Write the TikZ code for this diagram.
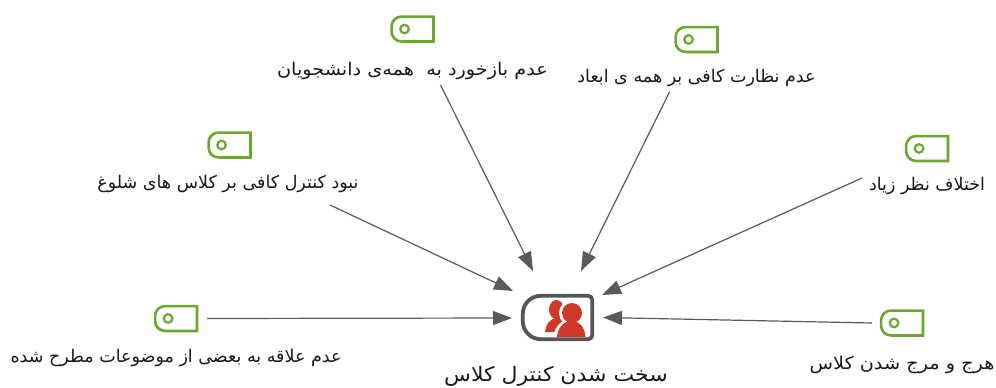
\documentclass[tikz,border=0pt]{standalone}
\usepackage{fontspec}
\TeXXeTstate=1
\newfontfamily\arabicfont[Script=Arabic]{DejaVu Sans}
\newfontfamily\arabicwide[Script=Arabic,FakeStretch=1.1]{DejaVu Sans}
\usetikzlibrary{arrows.meta}
\definecolor{tagGreen}{HTML}{6BA82C}
\definecolor{lineGrey}{HTML}{5A5A5A}
\definecolor{mainGrey}{HTML}{565656}
\definecolor{personRed}{HTML}{CF3A28}
\tikzset{
  lbl/.style={inner sep=0pt,font=\arabicfont\fontsize{17.5}{21}\selectfont,text=black!90},
  widelbl/.style={inner sep=0pt,font=\arabicwide\fontsize{17.5}{21}\selectfont,text=black!90},
  mainlbl/.style={inner sep=0pt,font=\arabicwide\fontsize{20}{24}\selectfont,text=black!90},
  anchorbox/.style={inner sep=0pt,minimum width=41.5pt,minimum height=24.5pt},
  conn/.style={draw=lineGrey,line width=1.2pt,-{Triangle[length=19pt,width=14pt]}},
  tagline/.style={draw=tagGreen,line width=2.6pt,line join=miter},
}
\newcommand{\tagicon}[3]{%
  \node[anchorbox] (#1) at (#2,#3) {};
  \draw[tagline] (#1.north) -- (#1.north east) -- (#1.south east) -- (#1.south)
    [rounded corners=10pt] -- (#1.south west) -- (#1.north west) [sharp corners] -- (#1.north) -- cycle;
  \draw[tagline,line width=2.2pt] ([xshift=13pt]#1.west) circle[radius=4.3pt];
}
\begin{document}
\begin{tikzpicture}[x=1pt,y=-1pt]
\useasboundingbox (0,0) rectangle (996,388);
\fill[white] (0,0) rectangle (996,388);

\tagicon{t1}{412.5}{29}
\tagicon{t2}{696.5}{39.5}
\tagicon{t3}{229.5}{145}
\tagicon{t4}{927}{148.5}
\tagicon{t5}{176}{318.5}
\tagicon{t6}{902}{323}

\node[widelbl] (l1) at (412.5,71) {\beginR عدم بازخورد به\ \ همه‌ی دانشجویان\endR};
\node[lbl] (l2) at (696.5,78) {\beginR عدم نظارت کافی بر همه ی ابعاد\endR};
\node[lbl] (l3) at (228,184) {\beginR نبود کنترل کافی بر کلاس های شلوغ\endR};
\node[lbl] (l4) at (927,186) {\beginR اختلاف نظر زیاد\endR};
\node[lbl] (l5) at (176,358) {\beginR عدم علاقه به بعضی از موضوعات مطرح شده\endR};
\node[widelbl] (l6) at (902,365) {\beginR هرج و مرج شدن کلاس\endR};

% central icon
\node[inner sep=0pt,minimum width=69pt,minimum height=43pt] (main) at (557.5,317.5) {};
\fill[personRed] (556.5,309.5) ellipse[x radius=7.5pt,y radius=9.5pt];
\fill[personRed] (545,332) .. controls (545.5,325) and (549,320) .. (555,318) -- (563,316) -- (563,332) -- cycle;
\fill[white] (572,313) circle[radius=13pt];
\fill[white] (553,339) .. controls (554,326) and (562,319) .. (572,319) -- (590,337) -- cycle;
\fill[personRed] (572,313) circle[radius=10pt];
\fill[personRed] (557,337) .. controls (558,327) and (564,321) .. (571.5,321) .. controls (579,321) and (585,327) .. (585.5,337) -- cycle;
\draw[mainGrey,line width=3.8pt,line join=round]
  (main.north) [rounded corners=4pt] -- (main.north east) -- (main.south east) [rounded corners=18pt] -- (main.south west) -- (main.north west) [sharp corners] -- (main.north) -- cycle;
\node[mainlbl] (mt) at (556,376) {\beginR سخت شدن کنترل کلاس\endR};

% connector ends
\coordinate (s1) at (440.5,85);
\coordinate (e1) at (533,271);
\coordinate (s2) at (669.5,92);
\coordinate (e2) at (581,271);
\coordinate (s3) at (330,205);
\coordinate (e3) at (513,291);
\coordinate (s4) at (862,178);
\coordinate (e4) at (602,295);
\coordinate (s5) at (207,318.5);
\coordinate (e5) at (512,318);
\coordinate (s6) at (872,323);
\coordinate (e6) at (603,317.5);
\draw[conn] (s1) -- (e1);
\draw[conn] (s2) -- (e2);
\draw[conn] (s3) -- (e3);
\draw[conn] (s4) -- (e4);
\draw[conn] (s5) -- (e5);
\draw[conn] (s6) -- (e6);
\end{tikzpicture}
\end{document}
